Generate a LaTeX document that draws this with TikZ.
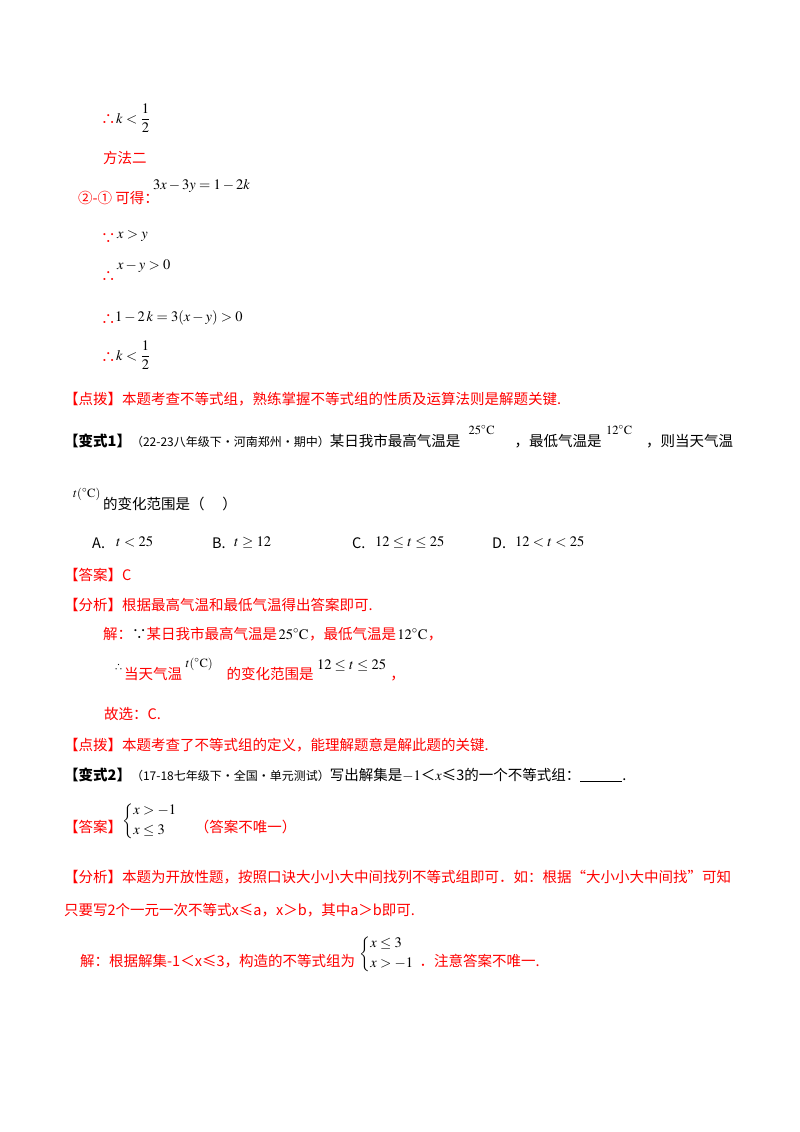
\documentclass[tikz,border=0pt]{standalone}
\usepackage{amsmath,amssymb}
\usepackage{mathptmx}
\usepackage{fontspec}
\setmainfont{Noto Sans CJK SC}
\definecolor{rd}{HTML}{FF0000}
\tikzset{t/.style={anchor=base west,inner sep=0pt,font=\fontsize{14.5}{17}\selectfont},
 r/.style={t,text=rd}, s/.style={t,font=\fontsize{12.5}{14}\selectfont}}
\begin{document}
\begin{tikzpicture}[x=1pt,y=-1pt]
\useasboundingbox (0,0) rectangle (800,1132);
\node[r] (a1) at (101,124) {∴};
\node[t] (a1m) at (116,123) {$k<\dfrac{1}{2}$};
\node[r] (a2) at (103,163) {方法二};
\node[r] (a3) at (78,203) {②-① 可得：};
\node[t] (a3m) at (153,189) {$3x-3y=1-2k$};
\node[r] (a4) at (101,243) {∵};
\node[t] (a4m) at (117,238) {$x>y$};
\node[r] (a5) at (101,281) {∴};
\node[t] (a5m) at (117,269) {$x-y>0$};
\node[r] (a6) at (101,324) {∴};
\node[t] (a6m) at (115,321) {$1-2\,k=3(x-y)>0$};
\node[r] (a7) at (101,362) {∴};
\node[t] (a7m) at (116,360) {$k<\dfrac{1}{2}$};
\node[r] (a8) at (64,404) {【点拨】本题考查不等式组，熟练掌握不等式组的性质及运算法则是解题关键.};
\node[t] (b1) at (64,446) {\textbf{【变式1】}{\fontsize{12}{14}\selectfont（22-23八年级下·河南郑州·期中）}某日我市最高气温是};
\node[s] (b1a) at ([xshift=8pt,yshift=12pt]b1.base east) {$25^{\circ}\mathrm{C}$};
\node[t] (b1b) at ([xshift=54pt]b1.base east) {，最低气温是};
\node[s] (b1c) at ([xshift=4pt,yshift=12pt]b1b.base east) {$12^{\circ}\mathrm{C}$};
\node[t] (b1d) at ([xshift=44pt]b1b.base east) {，则当天气温};
\node[s] (b2a) at (73,497) {$t(^{\circ}\mathrm{C})$};
\node[t] (b2) at (103,509) {的变化范围是（\quad\ ）};
\node[t] (o1) at (92,548) {A.};
\node[t] (o1m) at (116,546) {$t<25$};
\node[t] (o2) at (212,548) {B.};
\node[t] (o2m) at (234,546) {$t\geq 12$};
\node[t] (o3) at (352,548) {C.};
\node[t] (o3m) at (375,546) {$12\leq t\leq 25$};
\node[t] (o4) at (492,548) {D.};
\node[t] (o4m) at (515,546) {$12<t<25$};
\node[r] (c1) at (64,580) {【答案】C};
\node[r] (c2) at (64,610) {【分析】根据最高气温和最低气温得出答案即可.};
\node[r] (c3) at (103,639) {解：\textcolor{black}{∵}某日我市最高气温是};
\node[t] (c3a) at ([xshift=1pt]c3.base east) {$25^{\circ}\mathrm{C}$};
\node[r] (c3b) at (c3a.base east) {，最低气温是};
\node[t] (c3c) at ([xshift=1pt]c3b.base east) {$12^{\circ}\mathrm{C}$};
\node[r] (c3d) at (c3c.base east) {，};
\node[t] (c4) at (114,670) {\small ∴};
\node[r] (c4a) at (124,679) {当天气温};
\node[s] (c4b) at ([xshift=3pt,yshift=12pt]c4a.base east) {$t(^{\circ}\mathrm{C})$};
\node[r] (c4c) at ([xshift=44pt]c4a.base east) {的变化范围是};
\node[t] (c4d) at ([xshift=3pt,yshift=10pt]c4c.base east) {$12\leq t\leq 25$};
\node[r] (c4e) at ([xshift=4pt,yshift=-10pt]c4d.base east) {，};
\node[r] (c5) at (104,719) {故选：C.};
\node[r] (c6) at (64,750) {【点拨】本题考查了不等式组的定义，能理解题意是解此题的关键.};
\node[t] (d1) at (64,780) {\textbf{【变式2】}{\fontsize{12}{14}\selectfont（17-18七年级下·全国·单元测试）}写出解集是$-1$＜$x$≤3的一个不等式组：\rule[-1.5pt]{42pt}{0.6pt}.};
\node[r] (d2) at (64,832) {【答案】};
\node[t] (d2m) at ([yshift=7pt]d2.base east) {$\left\{\begin{array}{@{}l}x>-1\\[3pt] x\leq 3\end{array}\right.$};
\node[r] (d2b) at ([xshift=12pt]d2.base east -| d2m.east) {（答案不唯一）};
\node[r] (e1) at (64,882) {【分析】本题为开放性题，按照口诀大小小大中间找列不等式组即可．如：根据“大小小大中间找”可知};
\node[r] (e2) at (64,915) {只要写2个一元一次不等式x≤a，x＞b，其中a＞b即可.};
\node[r] (e3) at (80,966) {解：根据解集-1＜x≤3，构造的不等式组为};
\node[t] (e3m) at ([xshift=4pt,yshift=8pt]e3.base east) {$\left\{\begin{array}{@{}l}x\leq 3\\[3pt] x>-1\end{array}\right.$};
\node[r] (e3b) at (e3.base -| e3m.east) {．注意答案不唯一.};
\end{tikzpicture}
\end{document}
